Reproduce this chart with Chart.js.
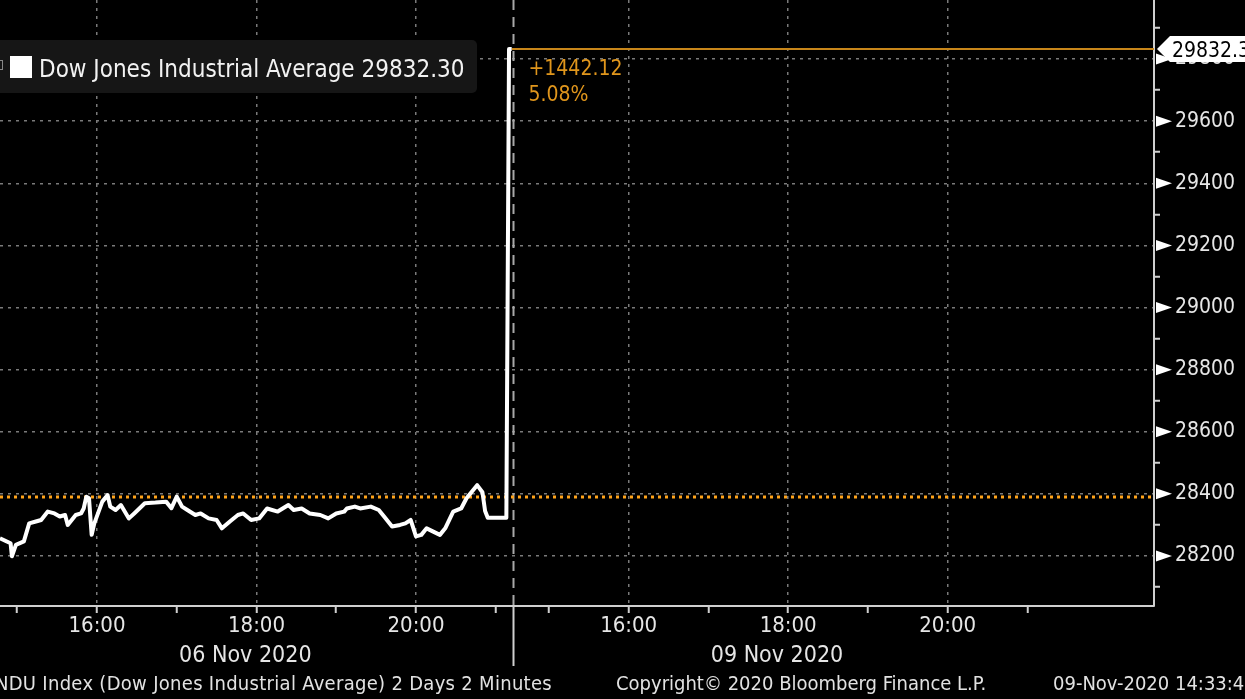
<!DOCTYPE html>
<html>
<head>
<meta charset="utf-8">
<script src="https://cdn.jsdelivr.net/npm/chart.js@4.4.1/dist/chart.umd.min.js"></script>
<style>
  html, body { margin: 0; padding: 0; background: #000; overflow: hidden; }
  canvas { display: block; }
</style>
</head>
<body>
<canvas id="chart" width="1245" height="699"></canvas>
<script>
// INDU 2 minute bars, London time
const day1Times = [
  "14:44", "14:47", "14:55", "14:56", "14:59", "15:05", "15:09", "15:14", "15:18", "15:23",
  "15:28", "15:32", "15:36", "15:38", "15:44", "15:48", "15:50", "15:52", "15:54", "15:56",
  "15:58", "16:04", "16:08", "16:10", "16:14", "16:18", "16:24", "16:28", "16:36", "16:44",
  "16:52", "16:56", "17:00", "17:04", "17:08", "17:14", "17:18", "17:24", "17:30", "17:34",
  "17:40", "17:46", "17:50", "17:56", "18:02", "18:08", "18:16", "18:24", "18:28", "18:34",
  "18:40", "18:48", "18:54", "19:00", "19:06", "19:08", "19:14", "19:18", "19:26", "19:32",
  "19:36", "19:42", "19:48", "19:52", "19:56", "20:00", "20:04", "20:08", "20:18", "20:22",
  "20:28", "20:34", "20:38", "20:46", "20:50", "20:52", "20:54", "21:08"
];
const day1Values = [
  28258, 28257, 28241, 28199, 28236, 28247, 28305, 28311, 28316, 28343,
  28337, 28327, 28332, 28300, 28332, 28337, 28353, 28391, 28386, 28268,
  28305, 28375, 28396, 28359, 28348, 28364, 28321, 28337, 28370, 28372,
  28375, 28354, 28391, 28359, 28348, 28332, 28337, 28321, 28316, 28289,
  28311, 28332, 28337, 28316, 28321, 28353, 28343, 28364, 28348, 28353,
  28337, 28332, 28321, 28337, 28343, 28353, 28359, 28353, 28359, 28348,
  28327, 28295, 28300, 28305, 28316, 28263, 28268, 28289, 28268, 28289,
  28343, 28353, 28386, 28428, 28405, 28345, 28323, 28323
];
const day2Times = ["14:30", "14:32"];
const day2Values = [29832.30, 29832.30];

const lastPrice = 29832.30;
const prevClose = 28390.18;
const netChange = "+1442.12";
const pctChange = "5.08%";

const yTickValues = [28100, 28200, 28300, 28400, 28500, 28600, 28700, 28800, 28900,
  29000, 29100, 29200, 29300, 29400, 29500, 29600, 29700, 29800, 29900];
const hourTicks = [15, 16, 17, 18, 19, 20, 21];
const hourLabels = ["", "16:00", "", "18:00", "", "20:00", ""];
const dayLabels = ["06 Nov 2020", "09 Nov 2020"];

const legendLabel = "Dow Jones Industrial Average";
const footerLeft = "INDU Index (Dow Jones Industrial Average) 2 Days 2 Minutes";
const footerMid = "Copyright\u00A9 2020 Bloomberg Finance L.P.";
const footerRight = "09-Nov-2020 14:33:48";

// second session is drawn right after the first one
const DAY2_SHIFT = 20 / 3;
const SESSION_OPEN = 14.5;
const DIVIDER = 21.22;
const X_MIN = 14.784;
const X_MAX = 29.254;

const FONT = '"DejaVu Sans Condensed", "DejaVu Sans", sans-serif';
const TEXT = "#e6e6e6";
const GRID = "#7a7a7a";
const AXIS = "#cfcfcf";
const GOLD = "#e0961c";

function toX(t, day) {
  const [h, m] = t.split(":").map(Number);
  return h + m / 60 + (day ? DAY2_SHIFT : 0);
}

const pricePoints = day1Times.map((t, i) => ({ x: toX(t, 0), y: day1Values[i] }))
  .concat(day2Times.map((t, i) => ({ x: toX(t, 1), y: day2Values[i] })));

const xTicks = hourTicks.map(h => h).concat(hourTicks.map(h => h + DAY2_SHIFT));
const xLabels = hourLabels.concat(hourLabels);

Chart.defaults.font.family = FONT;

const overlay = {
  id: "overlay",
  beforeDatasetsDraw(chart) {
    const ctx = chart.ctx;
    const area = chart.chartArea;
    const x = Math.round(chart.scales.x.getPixelForValue(DIVIDER)) + 0.5;
    ctx.save();
    ctx.strokeStyle = "#a8a8a8";
    ctx.lineWidth = 2;
    ctx.setLineDash([10, 7]);
    ctx.beginPath();
    ctx.moveTo(x, area.top);
    ctx.lineTo(x, area.bottom);
    ctx.stroke();
    ctx.restore();
  },
  afterDraw(chart) {
    const ctx = chart.ctx;
    const xs = chart.scales.x;
    const ys = chart.scales.y;
    const area = chart.chartArea;
    ctx.save();

    // day divider below the axis
    const dx = Math.round(xs.getPixelForValue(DIVIDER)) + 0.5;
    ctx.strokeStyle = AXIS;
    ctx.lineWidth = 2;
    ctx.beginPath();
    ctx.moveTo(dx, area.bottom);
    ctx.lineTo(dx, area.bottom + 60);
    ctx.stroke();

    // white pointers on the major price ticks
    ctx.fillStyle = "#ffffff";
    yTickValues.filter(v => v % 200 === 0).forEach(v => {
      const y = ys.getPixelForValue(v);
      ctx.beginPath();
      ctx.moveTo(area.right + 2, y - 5.5);
      ctx.lineTo(area.right + 18, y);
      ctx.lineTo(area.right + 2, y + 5.5);
      ctx.closePath();
      ctx.fill();
    });

    // legend box
    ctx.fillStyle = "#161616";
    ctx.beginPath();
    ctx.roundRect(-8, 40, 485, 53, 5);
    ctx.fill();
    ctx.strokeStyle = "#888";
    ctx.lineWidth = 1;
    ctx.strokeRect(-7.5, 60.5, 10, 9);
    ctx.fillStyle = "#ffffff";
    ctx.fillRect(10, 56, 22, 22);
    ctx.fillStyle = "#f2f2f2";
    ctx.font = "24px " + FONT;
    ctx.textAlign = "left";
    ctx.textBaseline = "alphabetic";
    ctx.fillText(legendLabel + " " + lastPrice.toFixed(2), 39, 77);

    // change annotation
    const ly = ys.getPixelForValue(lastPrice);
    ctx.fillStyle = GOLD;
    ctx.font = "21px " + FONT;
    ctx.fillText(netChange, dx + 15, ly + 26);
    ctx.fillText(pctChange, dx + 15, ly + 52);

    // last price tag on the axis
    ctx.fillStyle = "#ffffff";
    ctx.beginPath();
    ctx.moveTo(area.right + 3, ly);
    ctx.lineTo(area.right + 16, ly - 13);
    ctx.lineTo(chart.width + 5, ly - 13);
    ctx.lineTo(chart.width + 5, ly + 13);
    ctx.lineTo(area.right + 16, ly + 13);
    ctx.closePath();
    ctx.fill();
    ctx.fillStyle = "#000000";
    ctx.fillText(lastPrice.toFixed(2), area.right + 18, ly + 8);

    // session dates
    ctx.fillStyle = TEXT;
    ctx.font = "23px " + FONT;
    ctx.textAlign = "center";
    dayLabels.forEach((d, i) => {
      const mid = (SESSION_OPEN + DIVIDER) / 2 + i * DAY2_SHIFT;
      ctx.fillText(d, xs.getPixelForValue(mid), 662);
    });

    // footer
    ctx.fillStyle = "#e2e2e2";
    ctx.font = "20px " + FONT;
    ctx.textAlign = "right";
    ctx.letterSpacing = "0.3px";
    ctx.fillText(footerLeft, 552, 690);
    ctx.letterSpacing = "0px";
    ctx.textAlign = "left";
    ctx.fillText(footerMid, 616, 690);
    ctx.fillText(footerRight, 1053, 690);
    ctx.restore();
  }
};

new Chart(document.getElementById("chart"), {
  type: "line",
  data: {
    datasets: [
      {
        data: pricePoints,
        borderColor: "#ffffff",
        borderWidth: 4,
        pointRadius: 0,
        tension: 0,
        borderJoinStyle: "round",
      },
      {
        data: [
          { x: toX(day2Times[day2Times.length - 1], 1), y: lastPrice },
          { x: X_MAX, y: lastPrice },
        ],
        borderColor: "#c8861a",
        borderWidth: 2,
        pointRadius: 0,
      },
      {
        data: [
          { x: X_MIN, y: prevClose },
          { x: X_MAX, y: prevClose },
        ],
        borderColor: "#ffa31a",
        borderWidth: 3,
        borderDash: [3, 4],
        pointRadius: 0,
      },
    ],
  },
  options: {
    responsive: false,
    animation: false,
    layout: { padding: 0 },
    plugins: {
      legend: { display: false },
      tooltip: { enabled: false },
    },
    scales: {
      x: {
        type: "linear",
        position: "bottom",
        min: X_MIN,
        max: X_MAX,
        afterBuildTicks: (s) => {
          s.ticks = xTicks.map(v => ({ value: v }));
        },
        afterFit: (s) => {
          s.height = 93;
          s.paddingLeft = 0;
          s.paddingRight = 0;
        },
        ticks: {
          autoSkip: false,
          maxRotation: 0,
          padding: 0,
          color: TEXT,
          font: { size: 22 },
          callback: (v, i) => xLabels[i],
        },
        grid: {
          color: (c) => (c.index !== undefined && xLabels[c.index] ? GRID : "transparent"),
          lineWidth: 1.5,
          tickColor: AXIS,
          tickWidth: 2,
          tickLength: 7,
          tickBorderDash: [],
        },
        border: { color: AXIS, width: 2, dash: [3, 5] },
      },
      y: {
        type: "linear",
        position: "right",
        min: 28039,
        max: 29990,
        afterBuildTicks: (s) => {
          s.ticks = yTickValues.map(v => ({ value: v }));
        },
        afterFit: (s) => {
          s.width = 91;
          s.paddingTop = 0;
          s.paddingBottom = 0;
        },
        ticks: {
          autoSkip: false,
          padding: 15,
          color: TEXT,
          font: { size: 21 },
          callback: (v) => (v % 200 === 0 ? String(v) : ""),
        },
        grid: {
          color: (c) => (c.tick && c.tick.value % 200 === 0 ? GRID : "transparent"),
          lineWidth: 1.5,
          tickColor: (c) => (c.tick && c.tick.value % 200 === 0 ? "transparent" : AXIS),
          tickWidth: 2,
          tickLength: 6,
          tickBorderDash: [],
        },
        border: { color: AXIS, width: 2, dash: [3, 5] },
      },
    },
  },
  plugins: [overlay],
});
</script>
</body>
</html>
